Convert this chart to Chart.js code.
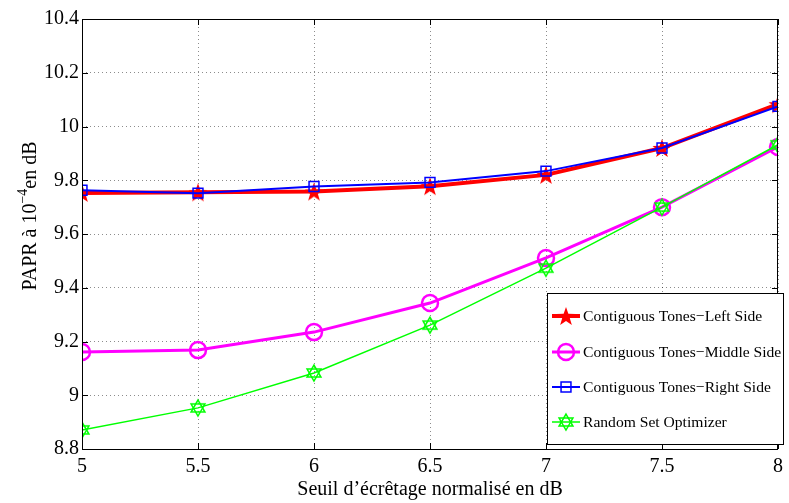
<!DOCTYPE html>
<html>
<head>
<meta charset="utf-8">
<script src="https://cdn.jsdelivr.net/npm/chart.js@4/dist/chart.umd.min.js"></script>
<style>
  html, body { margin: 0; padding: 0; background: #fff; }
  #wrap { width: 789px; height: 503px; }
</style>
</head>
<body>
<div id="wrap"><canvas id="chart"></canvas></div>
<script>
// Data
const thresholds = [5, 5.5, 6, 6.5, 7, 7.5, 8];
const leftSide = [9.753, 9.755, 9.758, 9.778, 9.82, 9.92, 10.083];
const middleSide = [9.161, 9.168, 9.235, 9.343, 9.511, 9.70, 9.924];
const rightSide = [9.763, 9.752, 9.777, 9.792, 9.834, 9.92, 10.075];
const randomSet = [8.871, 8.953, 9.083, 9.261, 9.473, 9.70, 9.932];
const seriesLabels = [
  "Contiguous Tones\u2212Left Side",
  "Contiguous Tones\u2212Middle Side",
  "Contiguous Tones\u2212Right Side",
  "Random Set Optimizer",
];
const yTicks = [8.8, 9, 9.2, 9.4, 9.6, 9.8, 10, 10.2, 10.4];
const xLabel = "Seuil d\u2019\u00e9cr\u00eatage normalis\u00e9 en dB";

const serif = "'Liberation Serif', 'DejaVu Serif', serif";

// Marker images
function makeMarker(size, draw) {
  const c = document.createElement("canvas");
  c.width = size;
  c.height = size;
  draw(c.getContext("2d"), size / 2);
  return c;
}

const starMarker = makeMarker(22, (g, m) => {
  g.beginPath();
  for (let i = 0; i < 10; i++) {
    const r = i % 2 === 0 ? 10 : 4;
    const a = -Math.PI / 2 + (i * Math.PI) / 5;
    const px = m + r * Math.cos(a);
    const py = m + 1 + r * Math.sin(a);
    if (i === 0) g.moveTo(px, py);
    else g.lineTo(px, py);
  }
  g.closePath();
  g.fillStyle = "#ff0000";
  g.fill();
});

const hexMarker = makeMarker(20, (g, m) => {
  g.strokeStyle = "#00ff00";
  g.lineWidth = 1.5;
  [-Math.PI / 2, Math.PI / 2].forEach((start) => {
    g.beginPath();
    for (let i = 0; i < 3; i++) {
      const a = start + (i * 2 * Math.PI) / 3;
      const px = m + 8 * Math.cos(a);
      const py = m + 8 * Math.sin(a);
      if (i === 0) g.moveTo(px, py);
      else g.lineTo(px, py);
    }
    g.closePath();
    g.stroke();
  });
});

function toPoints(values) {
  return thresholds.map((x, i) => ({ x: x, y: values[i] }));
}

const datasets = [
  {
    label: seriesLabels[0],
    data: toPoints(leftSide),
    borderColor: "#ff0000",
    borderWidth: 4,
    pointStyle: starMarker,
    order: 4,
    legendMarker: starMarker,
  },
  {
    label: seriesLabels[1],
    data: toPoints(middleSide),
    borderColor: "#ff00ff",
    borderWidth: 3,
    pointStyle: "circle",
    pointRadius: 8,
    pointBorderWidth: 2.5,
    pointBackgroundColor: "rgba(0,0,0,0)",
    order: 3,
  },
  {
    label: seriesLabels[2],
    data: toPoints(rightSide),
    borderColor: "#0000ff",
    borderWidth: 2,
    pointStyle: "rect",
    pointRadius: 7,
    pointBorderWidth: 1.5,
    pointBackgroundColor: "rgba(0,0,0,0)",
    order: 2,
  },
  {
    label: seriesLabels[3],
    data: toPoints(randomSet),
    borderColor: "#00ff00",
    borderWidth: 1.5,
    pointStyle: hexMarker,
    order: 1,
    legendMarker: hexMarker,
  },
];

// Frame, inward ticks, axis titles and the boxed legend
const matlabDecor = {
  id: "matlabDecor",
  afterDraw(chart) {
    const ctx = chart.ctx;
    const a = chart.chartArea;
    const xs = chart.scales.x;
    const ys = chart.scales.y;
    ctx.save();

    // frame
    ctx.strokeStyle = "#000";
    ctx.lineWidth = 1;
    ctx.strokeRect(a.left + 0.5, a.top + 0.5, a.right - a.left - 1, a.bottom - a.top);

    // inward ticks
    ctx.beginPath();
    thresholds.forEach((v) => {
      const px = Math.round(xs.getPixelForValue(v)) + 0.5;
      ctx.moveTo(px, a.bottom);
      ctx.lineTo(px, a.bottom - 6);
      ctx.moveTo(px, a.top);
      ctx.lineTo(px, a.top + 6);
    });
    yTicks.forEach((v) => {
      const py = Math.round(ys.getPixelForValue(v)) + 0.5;
      ctx.moveTo(a.left, py);
      ctx.lineTo(a.left + 6, py);
      ctx.moveTo(a.right, py);
      ctx.lineTo(a.right - 6, py);
    });
    ctx.stroke();

    // x title
    ctx.fillStyle = "#000";
    ctx.font = "20px " + serif;
    ctx.textAlign = "center";
    ctx.textBaseline = "alphabetic";
    ctx.fillText(xLabel, (a.left + a.right) / 2, 495);

    // y title with superscript
    ctx.save();
    ctx.translate(36, 216);
    ctx.rotate(-Math.PI / 2);
    const p1 = "PAPR \u00e0 10";
    const sup = "\u22124";
    const p2 = "en dB";
    ctx.font = "20px " + serif;
    const w1 = ctx.measureText(p1).width;
    const w3 = ctx.measureText(p2).width;
    ctx.font = "14px " + serif;
    const w2 = ctx.measureText(sup).width;
    let x0 = -(w1 + w2 + w3) / 2;
    ctx.textAlign = "left";
    ctx.font = "20px " + serif;
    ctx.fillText(p1, x0, 0);
    ctx.font = "14px " + serif;
    ctx.fillText(sup, x0 + w1, -9);
    ctx.font = "20px " + serif;
    ctx.fillText(p2, x0 + w1 + w2, 0);
    ctx.restore();

    // legend
    const box = { left: 547, top: 293, right: 783, bottom: 444 };
    ctx.fillStyle = "#fff";
    ctx.fillRect(box.left, box.top, box.right - box.left, box.bottom - box.top);
    ctx.strokeStyle = "#000";
    ctx.lineWidth = 1;
    ctx.strokeRect(box.left + 0.5, box.top + 0.5, box.right - box.left, box.bottom - box.top);
    const rows = [316, 352, 387, 422];
    chart.data.datasets.forEach((ds, i) => {
      const y = rows[i];
      ctx.strokeStyle = ds.borderColor;
      ctx.lineWidth = ds.borderWidth;
      ctx.beginPath();
      ctx.moveTo(552, y);
      ctx.lineTo(580, y);
      ctx.stroke();
      if (ds.legendMarker) {
        const m = ds.legendMarker;
        ctx.drawImage(m, 566 - m.width / 2, y - m.height / 2);
      } else {
        ctx.fillStyle = "rgba(0,0,0,0)";
        ctx.strokeStyle = ds.borderColor;
        ctx.lineWidth = ds.pointBorderWidth;
        Chart.helpers.drawPoint(ctx, {
          pointStyle: ds.pointStyle,
          radius: ds.pointRadius,
          borderWidth: ds.pointBorderWidth,
        }, 566, y);
      }
      ctx.fillStyle = "#000";
      ctx.font = "15.6px " + serif;
      ctx.textAlign = "left";
      ctx.textBaseline = "middle";
      ctx.fillText(ds.label, 583, y + 1);
    });

    ctx.restore();
  },
};

new Chart(document.getElementById("chart"), {
  type: "line",
  data: { datasets: datasets },
  options: {
    responsive: true,
    maintainAspectRatio: false,
    animation: false,
    layout: { padding: { top: 19, right: 3, left: 0, bottom: 0 } },
    plugins: {
      legend: { display: false },
      tooltip: { enabled: false },
    },
    elements: { line: { tension: 0 } },
    scales: {
      x: {
        type: "linear",
        min: 5,
        max: 8,
        afterFit: (scale) => { scale.height = 54; },
        afterBuildTicks: (scale) => { scale.ticks = thresholds.map((v) => ({ value: v })); },
        grid: { color: "rgba(0,0,0,0.45)", drawTicks: false },
        border: { display: false, dash: [1, 3] },
        ticks: {
          color: "#000",
          padding: 6,
          maxRotation: 0,
          autoSkip: false,
          font: { family: serif, size: 20 },
          callback: (v) => String(v),
        },
      },
      y: {
        min: 8.8,
        max: 10.4,
        afterFit: (scale) => { scale.width = 82; },
        afterBuildTicks: (scale) => { scale.ticks = yTicks.map((v) => ({ value: v })); },
        grid: { color: "rgba(0,0,0,0.45)", drawTicks: false },
        border: { display: false, dash: [1, 3] },
        ticks: {
          color: "#000",
          padding: 3,
          autoSkip: false,
          font: { family: serif, size: 20 },
          callback: (v) => String(Number(v.toFixed(1))),
        },
      },
    },
  },
  plugins: [matlabDecor],
});
</script>
</body>
</html>
